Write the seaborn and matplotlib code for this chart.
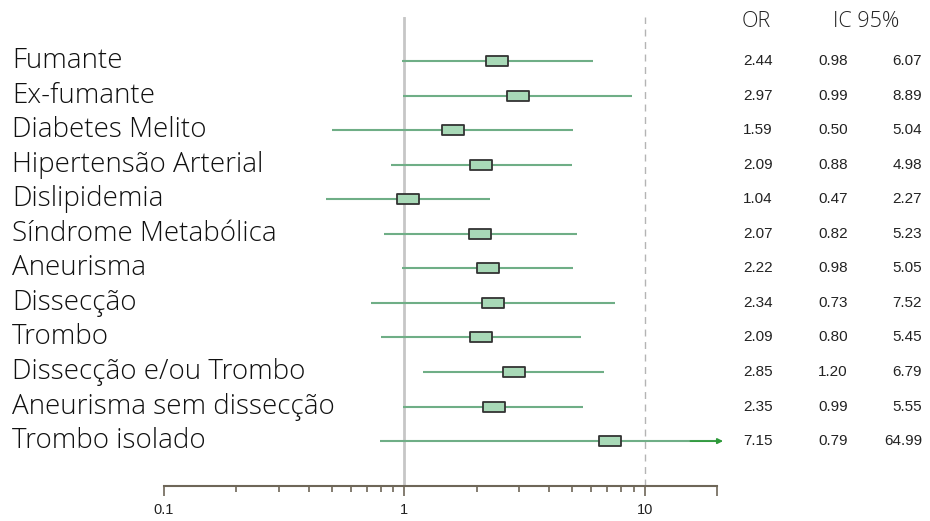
import matplotlib
matplotlib.use("Agg")
import numpy as np
import pandas as pd
import matplotlib.pyplot as plt
import matplotlib.transforms as mtransforms
from matplotlib.path import Path
from matplotlib.ticker import FixedLocator, NullFormatter
import seaborn as sns

# data
labels = ["Fumante", "Ex-fumante", "Diabetes Melito", "Hipertensão Arterial",
          "Dislipidemia", "Síndrome Metabólica", "Aneurisma", "Dissecção",
          "Trombo", "Dissecção e/ou Trombo", "Aneurisma sem dissecção",
          "Trombo isolado"]
or_vals = [2.44, 2.97, 1.59, 2.09, 1.04, 2.07, 2.22, 2.34, 2.09, 2.85, 2.35, 7.15]
ic_low = [0.98, 0.99, 0.50, 0.88, 0.47, 0.82, 0.98, 0.73, 0.80, 1.20, 0.99, 0.79]
ic_high = [6.07, 8.89, 5.04, 4.98, 2.27, 5.23, 5.05, 7.52, 5.45, 6.79, 5.55, 64.99]

df = pd.DataFrame({"label": labels, "OR": or_vals, "lo": ic_low, "hi": ic_high})
df["row"] = np.arange(len(df))

sns.set_theme(style="white")
plt.rcParams["font.family"] = ["Liberation Sans", "DejaVu Sans"]
label_font = ["Open Sans", "DejaVu Sans"]

xmin, xmax = 0.1, 20
line_col = "#6fae86"
box_col = "#a8d9b7"

fig = plt.figure(figsize=(9.3, 5.21), dpi=100)
ax = fig.add_axes([164 / 930, 1 - 486 / 521, 553 / 930, (486 - 17) / 521])
ax.set_xscale("log")
ax.set_xlim(xmin, xmax)
ax.set_ylim(12.3, -1.273)

# reference lines
ax.axvline(1, color="#c6c6c6", lw=2, zorder=0)
ax.axvline(10, color="#b4b4b4", lw=1, ls=(0, (5, 4)), zorder=0)

# confidence intervals
ax.hlines(df["row"], df["lo"], df["hi"].clip(upper=xmax), color=line_col, lw=1.5, zorder=1)
for _, r in df[df["hi"] > xmax].iterrows():
    ax.annotate("", xy=(21.2, r["row"]), xytext=(15.5, r["row"]),
                arrowprops=dict(arrowstyle="-|>", color="#2e9a3a", lw=1.2,
                                mutation_scale=8, shrinkA=0, shrinkB=0),
                annotation_clip=False)

# OR boxes
rect = Path([(-1, -0.52), (1, -0.52), (1, 0.52), (-1, 0.52), (-1, -0.52)],
            [Path.MOVETO, Path.LINETO, Path.LINETO, Path.LINETO, Path.CLOSEPOLY])
sns.scatterplot(data=df, x="OR", y="row", marker=rect, s=229, color=box_col,
                edgecolor="#333333", linewidth=1.3, ax=ax, zorder=3, legend=False)

# axis styling
for s in ["left", "top", "right"]:
    ax.spines[s].set_visible(False)
ax.spines["bottom"].set_color("#6e6658")
ax.spines["bottom"].set_linewidth(1.5)
ax.set_yticks([])
ax.set_xticks([0.1, 1, 10, 20])
ax.set_xticklabels(["0.1", "1", "10", ""])
ax.xaxis.set_minor_locator(FixedLocator([0.2, 0.3, 0.4, 0.5, 0.6, 0.7, 0.8, 0.9,
                                         2, 3, 4, 5, 6, 7, 8, 9]))
ax.xaxis.set_minor_formatter(NullFormatter())
ax.tick_params(axis="x", which="major", direction="out", length=7, width=1.2,
               color="#6e6658", labelsize=10.5, pad=5, labelcolor="#222222", bottom=True)
ax.tick_params(axis="x", which="minor", direction="out", length=4, width=1.2,
               color="#6e6658", bottom=True)
ax.set_xlabel("")
ax.set_ylabel("")

# row labels and value columns
tr = mtransforms.blended_transform_factory(fig.transFigure, ax.transData)
for _, r in df.iterrows():
    y = r["row"]
    ax.text(12 / 930, y, r["label"], transform=tr, ha="left", va="center",
            fontsize=20, fontweight="light", family=label_font, color="#111111")
    ax.text(758 / 930, y, f"{r['OR']:.2f}", transform=tr, ha="center", va="center",
            fontsize=11, color="#222222")
    ax.text(833 / 930, y, f"{r['lo']:.2f}", transform=tr, ha="center", va="center",
            fontsize=11, color="#222222")
    ax.text(922 / 930, y, f"{r['hi']:.2f}", transform=tr, ha="right", va="center",
            fontsize=11, color="#222222")

ax.text(756 / 930, -1.13, "OR", transform=tr, ha="center", va="center",
        fontsize=15.5, fontweight="light", family=label_font, color="#222222")
ax.text(866 / 930, -1.13, "IC 95%", transform=tr, ha="center", va="center",
        fontsize=15.5, fontweight="light", family=label_font, color="#222222")

fig.savefig("out.png", dpi=100)
